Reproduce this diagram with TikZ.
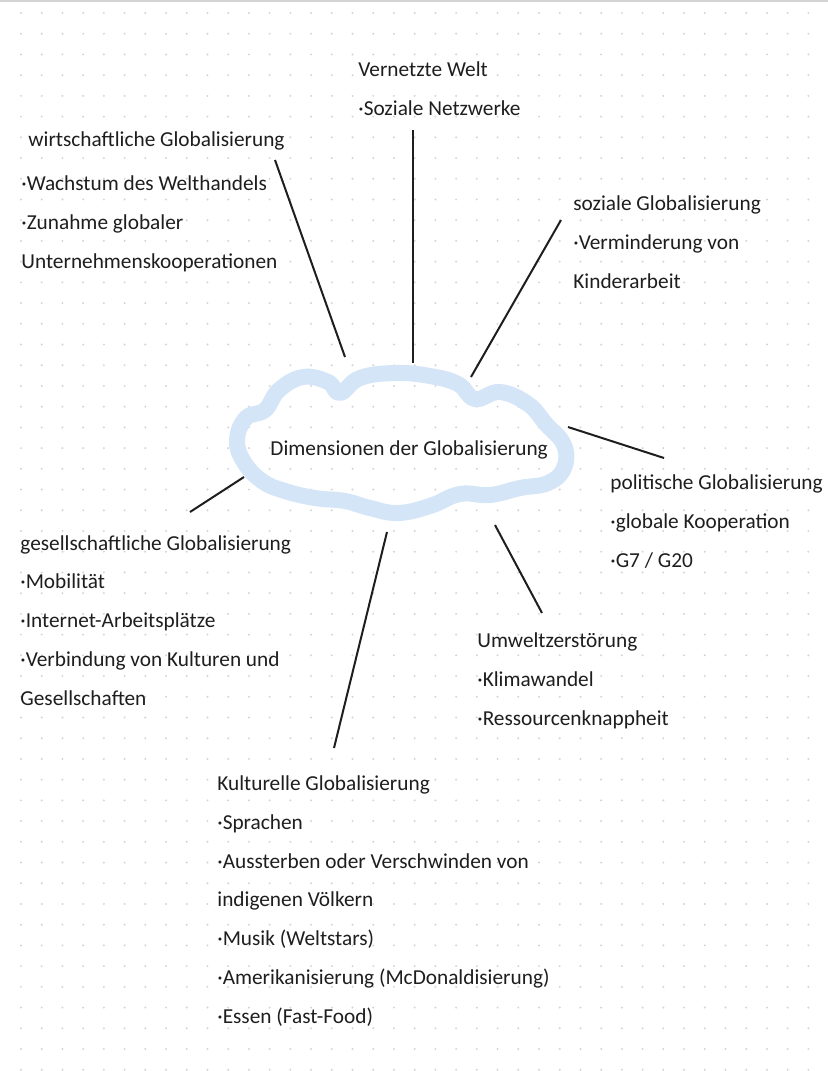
\documentclass[tikz,border=0pt]{standalone}
\usepackage{fontspec}
\setmainfont{Carlito}
\usetikzlibrary{positioning}
\definecolor{ink}{HTML}{1E1E1E}
\definecolor{cloudblue}{HTML}{D4E5F8}
\definecolor{dotgrey}{HTML}{D4D4D4}
\tikzset{
  blk/.style={anchor=base west,inner sep=0pt,align=left,text=ink,font=\fontsize{10.65}{19.35}\selectfont},
  con/.style={draw=ink,line width=1pt},
  cloudline/.style={draw=cloudblue,line width=8pt,line join=round}}
\begin{document}
\begin{tikzpicture}[x=0.5pt,y=-0.5pt]
  \useasboundingbox (0,0) rectangle (828,1071);
  \fill[white] (0,0) rectangle (828,1071);
  % dotted paper
  \foreach \i in {0,...,39} \foreach \j in {0,...,51}
    \fill[dotgrey] (21+\i*20.72,13+\j*20.72) circle (0.55pt);
  \draw[dotgrey,line width=0.8pt] (0,1) -- (828,1);
  % the cloud
  \draw[cloudline] plot[smooth cycle,tension=0.7] coordinates {
    (237,440) (246,418) (265,410) (279,390) (303,377) (328,382) (340,393)
    (360,378) (395,373) (430,376) (458,384) (475,399) (500,392) (528,404)
    (546,424) (564,445) (564,468) (548,483) (520,488) (490,495) (460,494)
    (430,506) (398,513) (370,508) (345,501) (315,498) (285,491) (262,481) (244,462)};
  \node[blk] (dim) at (270,455) {Dimensionen der Globalisierung};
  % the dimensions (anchored at the last line)
  \node[blk] (wirt) at (21,268) {\hspace*{3.5pt}wirtschaftliche Globalisierung\\[2.5pt]
    ·Wachstum des Welthandels\\
    ·Zunahme globaler\\
    Unternehmenskooperationen};
  \node[blk] (vern) at (358,115) {Vernetzte Welt\\·Soziale Netzwerke};
  \node[blk] (soz) at (573,288) {soziale Globalisierung\\·Verminderung von\\Kinderarbeit};
  \node[blk] (pol) at (610,567) {politische Globalisierung\\·globale Kooperation\\·G7 / G20};
  \node[blk] (ges) at (20,705) {gesellschaftliche Globalisierung\\·Mobilität\\·Internet-Arbeitsplätze\\·Verbindung von Kulturen und\\Gesellschaften};
  \node[blk] (umw) at (477,725) {Umweltzerstörung\\·Klimawandel\\·Ressourcenknappheit};
  \node[blk] (kult) at (217,1023) {Kulturelle Globalisierung\\·Sprachen\\·Aussterben oder Verschwinden von\\indigenen Völkern\\·Musik (Weltstars)\\·Amerikanisierung (McDonaldisierung)\\·Essen (Fast-Food)};
  % connector ends
  \coordinate (wirtE) at (275,160);  \coordinate (wirtC) at (345,357);
  \coordinate (vernE) at (413,130);  \coordinate (vernC) at (413,363);
  \coordinate (sozE) at (561,220);   \coordinate (sozC) at (471,377);
  \coordinate (polE) at (664,458);   \coordinate (polC) at (568,427);
  \coordinate (umwE) at (542,613);   \coordinate (umwC) at (495,525);
  \coordinate (kultE) at (334,748);  \coordinate (kultC) at (387,532);
  \coordinate (gesE) at (190,512);   \coordinate (gesC) at (244,477);
  \draw[con] (wirtE) -- (wirtC);
  \draw[con] (vernE) -- (vernC);
  \draw[con] (sozE) -- (sozC);
  \draw[con] (polE) -- (polC);
  \draw[con] (umwE) -- (umwC);
  \draw[con] (kultE) -- (kultC);
  \draw[con] (gesE) -- (gesC);
\end{tikzpicture}
\end{document}
